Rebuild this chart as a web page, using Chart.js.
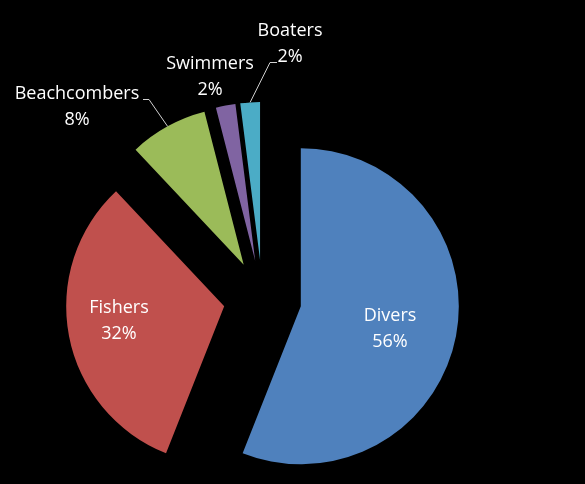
<!DOCTYPE html>
<html>
<head>
<meta charset="utf-8">
<script src="https://cdn.jsdelivr.net/npm/chart.js@4"></script>
<style>
  html, body { margin: 0; padding: 0; background: #000; }
  #wrap { width: 585px; height: 484px; }
</style>
</head>
<body>
<div id="wrap"><canvas id="pieChart" width="585" height="484"></canvas></div>
<script>
const groups  = ['Divers', 'Fishers', 'Beachcombers', 'Swimmers', 'Boaters'];
const shares  = [56, 32, 8, 2, 2];
const colours = ['#4F81BD', '#C0504D', '#9BBB59', '#8064A2', '#4BACC6'];

const EXPLODE = 39;   // distance each slice is pulled out
const FONT = '18px "Open Sans", sans-serif';

// where Excel put each label: centre x and first baseline, plus optional leader elbow
const labelLayout = {
  Divers:       { x: 390, y: 321 },
  Fishers:      { x: 119, y: 313 },
  Beachcombers: { x: 77,  y: 99,  elbow: [[143, 99], [149, 99]] },
  Swimmers:     { x: 210, y: 69 },
  Boaters:      { x: 290, y: 36,  elbow: [[277, 62], [270, 62]] }
};

// draw each slice pulled out along its middle angle (same radius for all)
const explodePlugin = {
  id: 'explode',
  beforeDatasetDraw(chart, args) {
    const ctx = chart.ctx;
    args.meta.data.forEach(arc => {
      const mid = (arc.startAngle + arc.endAngle) / 2;
      ctx.save();
      ctx.translate(Math.cos(mid) * EXPLODE, Math.sin(mid) * EXPLODE);
      arc.draw(ctx, chart.chartArea);
      ctx.restore();
    });
    return false;
  }
};

const labelPlugin = {
  id: 'sliceLabels',
  afterDatasetsDraw(chart) {
    const ctx = chart.ctx;
    const meta = chart.getDatasetMeta(0);
    ctx.save();
    ctx.font = FONT;
    ctx.fillStyle = '#ffffff';
    ctx.textAlign = 'center';
    ctx.textBaseline = 'alphabetic';
    meta.data.forEach((arc, i) => {
      const name = groups[i];
      const pos = labelLayout[name];
      ctx.fillText(name, pos.x, pos.y);
      ctx.fillText(shares[i] + '%', pos.x, pos.y + 26);

      if (pos.elbow) {
        const mid = (arc.startAngle + arc.endAngle) / 2;
        const r = arc.outerRadius + EXPLODE;
        const ex = arc.x + Math.cos(mid) * r;
        const ey = arc.y + Math.sin(mid) * r;
        ctx.strokeStyle = '#d0d0d0';
        ctx.lineWidth = 1;
        ctx.beginPath();
        ctx.moveTo(pos.elbow[0][0], pos.elbow[0][1] + 0.5);
        ctx.lineTo(pos.elbow[1][0], pos.elbow[1][1] + 0.5);
        ctx.lineTo(ex, ey);
        ctx.stroke();
      }
    });
    ctx.restore();
  }
};

const ctx = document.getElementById('pieChart').getContext('2d');
const pieChart = new Chart(ctx, {
  type: 'pie',
  data: {
    labels: groups,
    datasets: [{
      data: shares,
      backgroundColor: colours,
      borderWidth: 0,
      hoverOffset: 0
    }]
  },
  options: {
    responsive: false,
    animation: false,
    radius: 158,
    events: [],
    layout: { padding: { left: 0, right: 60, top: 114, bottom: 0 } },
    plugins: {
      legend: { display: false },
      tooltip: { enabled: false }
    }
  },
  plugins: [explodePlugin, labelPlugin]
});
</script>
</body>
</html>
